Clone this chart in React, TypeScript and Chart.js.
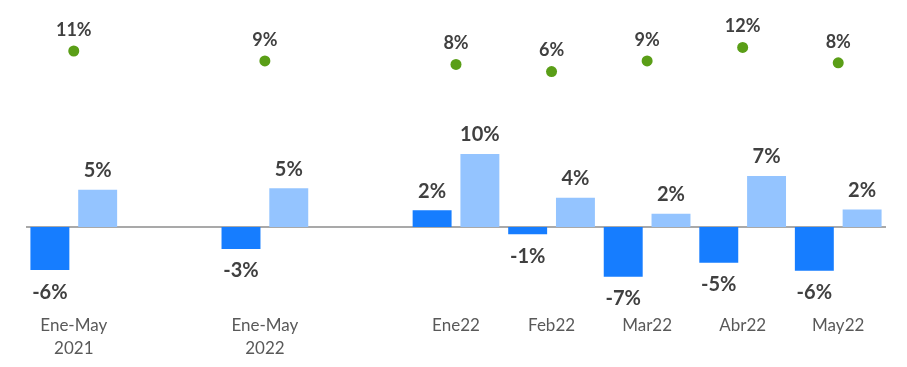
import React, { useEffect, useRef } from "react";
import { Chart, registerables } from "chart.js";

Chart.register(...registerables);

const categories: (string | string[])[] = [
  ["Ene-May", "2021"],
  "",
  ["Ene-May", "2022"],
  "",
  "Ene22",
  "Feb22",
  "Mar22",
  "Abr22",
  "May22",
];
const seriesDark: (number | null)[] = [-5.9, null, -3.0, null, 2.3, -1.0, -6.8, -4.9, -6.0];
const seriesLight: (number | null)[] = [5.1, null, 5.3, null, 10.0, 4.0, 1.8, 7.0, 2.4];
const seriesDots: (number | null)[] = [11.1, null, 8.6, null, 7.7, 5.9, 8.6, 12.0, 8.1];

const LABEL_COLOR = "#404040";
const FONT = "Lato, 'Open Sans', sans-serif";

const valueLabels = {
  id: "valueLabels",
  afterDatasetsDraw(chart: any) {
    const ctx = chart.ctx;
    ctx.save();
    ctx.fillStyle = LABEL_COLOR;
    ctx.textAlign = "center";
    ctx.textBaseline = "middle";
    chart.data.datasets.forEach((ds: any, di: number) => {
      const meta = chart.getDatasetMeta(di);
      meta.data.forEach((el: any, i: number) => {
        const v = ds.data[i];
        if (v === null || v === undefined) return;
        const txt = `${Math.round(v)}%`;
        if (ds.type === "line") {
          ctx.font = `bold 18px ${FONT}`;
          ctx.fillText(txt, el.x, el.y - 21);
        } else {
          ctx.font = `bold 20px ${FONT}`;
          const y = v >= 0 ? el.y - 19 : el.y + 22;
          ctx.fillText(txt, el.x, y);
        }
      });
    });
    ctx.restore();
  },
};

const zeroLine = {
  id: "zeroLine",
  beforeDatasetsDraw(chart: any) {
    const { ctx, chartArea, scales } = chart;
    const y = scales.y.getPixelForValue(0);
    ctx.save();
    ctx.strokeStyle = "#8c8c8c";
    ctx.lineWidth = 1.5;
    ctx.beginPath();
    ctx.moveTo(chartArea.left, y);
    ctx.lineTo(chartArea.right, y);
    ctx.stroke();
    ctx.restore();
  },
};

export default function App() {
  const ref = useRef<HTMLCanvasElement>(null);
  useEffect(() => {
    document.body.style.margin = "0";
    if (!ref.current) return;
    const chart = new Chart(ref.current, {
      type: "bar",
      data: {
        labels: categories,
        datasets: [
          {
            type: "line",
            data: seriesDots,
            yAxisID: "y1",
            showLine: false,
            pointRadius: 5.5,
            pointBackgroundColor: "#5a9e17",
            pointBorderColor: "#5a9e17",
            pointBorderWidth: 0,
            order: 0,
          } as any,
          {
            type: "bar",
            data: seriesDark,
            backgroundColor: "#167dff",
            categoryPercentage: 1,
            barPercentage: 0.815,
            order: 1,
          },
          {
            type: "bar",
            data: seriesLight,
            backgroundColor: "#94c4ff",
            categoryPercentage: 1,
            barPercentage: 0.815,
            order: 1,
          },
        ],
      },
      options: {
        responsive: false,
        animation: false,
        layout: { padding: { left: 26, right: 21, top: 8, bottom: 0 } },
        plugins: { legend: { display: false }, tooltip: { enabled: false } },
        scales: {
          x: {
            grid: { display: false, drawTicks: false },
            border: { display: false },
            ticks: {
              color: "#595959",
              font: { family: FONT, size: 17, lineHeight: 1.353 },
              padding: 14,
              maxRotation: 0,
              autoSkip: false,
            },
            afterFit: (s: any) => {
              s.height = 67;
            },
          },
          y: { display: false, min: -10, max: 30 },
          y1: { display: false, min: -52, max: 22 },
        },
      },
      plugins: [zeroLine, valueLabels],
    });
    return () => chart.destroy();
  }, []);
  return <canvas ref={ref} width={907} height={367} />;
}
